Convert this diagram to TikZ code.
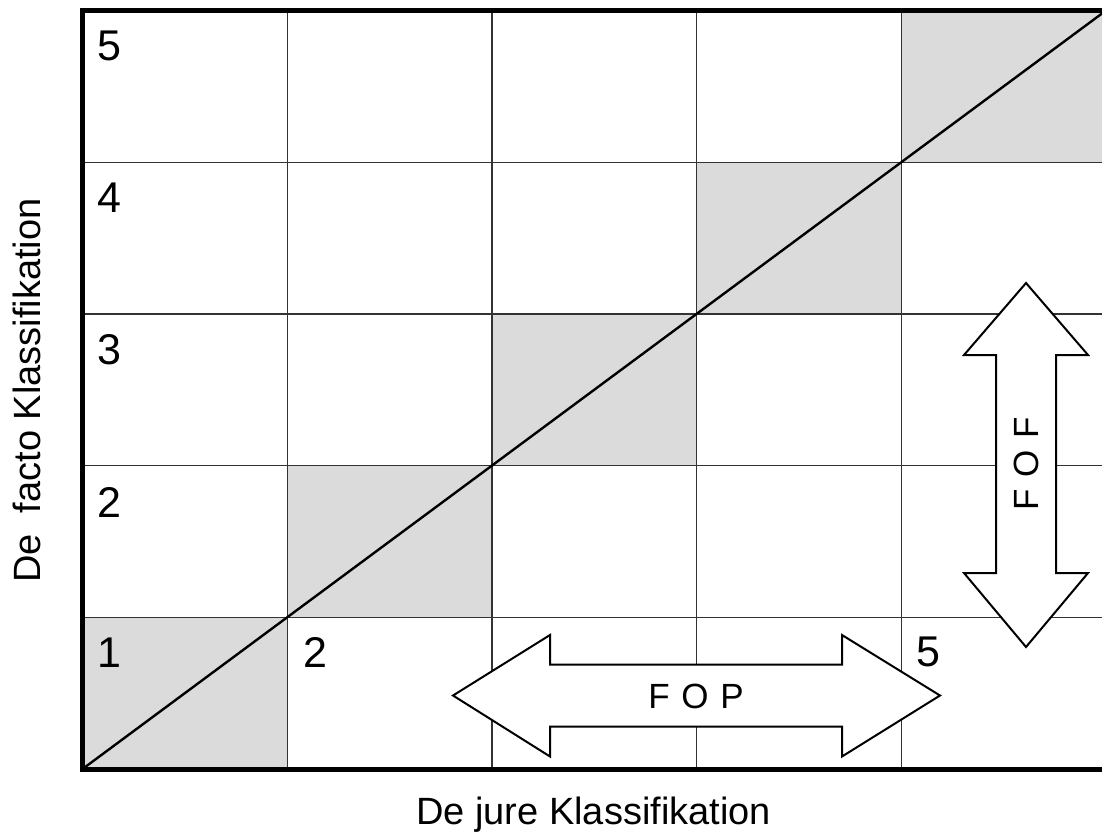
\documentclass[tikz,border=0pt]{standalone}
\usepackage{fontspec}
\setmainfont{Liberation Sans}
\begin{document}
\begin{tikzpicture}[x=1pt,y=-1pt,
  cellgray/.style={fill=black!14},
  gridline/.style={line width=1.4pt, draw=black!80},
  frame/.style={line width=5pt, draw=black, line join=miter},
  diag/.style={line width=2.4pt, draw=black},
  arrowbox/.style={line width=2pt, draw=black, fill=white, line join=miter},
  digit/.style={anchor=base west, inner sep=0pt, font=\fontsize{43}{43}\selectfont},
  axislabel/.style={anchor=base, inner sep=0pt, font=\fontsize{38}{38}\selectfont},
  arrowlabel/.style={inner sep=0pt, font=\fontsize{35}{35}\selectfont}]
\useasboundingbox (0,0) rectangle (1102,836);
\clip (0,0) rectangle (1102,836);
\def\gx{82.5}\def\gy{769}\def\cw{204.7}\def\ch{151.7}
% shaded diagonal cells
\foreach \i in {0,...,4}
  \fill[cellgray] ({\gx+\cw*\i},{\gy-\ch*\i}) rectangle ++(\cw,-\ch);
% inner grid lines
\foreach \i in {1,...,4}{
  \draw[gridline] ({\gx+\cw*\i},{\gy-5*\ch}) -- ({\gx+\cw*\i},\gy);
  \draw[gridline] (\gx,{\gy-\ch*\i}) -- ({\gx+5*\cw},{\gy-\ch*\i});
}
% diagonal
\coordinate (origin) at (\gx,\gy);
\coordinate (far) at ({\gx+5*\cw},{\gy-5*\ch});
\draw[diag] (origin) -- (far);
% frame: left, top and bottom
\draw[frame] ({\gx+5*\cw},{\gy-5*\ch}) -- (\gx,{\gy-5*\ch}) -- (\gx,\gy) -- ({\gx+5*\cw},\gy);
% horizontal double arrow
\draw[arrowbox] (453,695.5) -- (550,635) -- (550,664.5) -- (842,664.5) -- (842,635)
  -- (940,695.5) -- (842,756.5) -- (842,726.5) -- (550,726.5) -- (550,756.5) -- cycle;
% vertical double arrow
\draw[arrowbox] (1026,283) -- (1088,355) -- (1056,355) -- (1056,573) -- (1088,573)
  -- (1026,647) -- (964,573) -- (996,573) -- (996,355) -- (964,355) -- cycle;
\node[arrowlabel] (fop) at (696,696) {F\,\,O\,\,P};
\node[arrowlabel, rotate=90] (fof) at (1026,464) {F\,\,O\,\,F};
% row and column numbers
\node[digit] (r5) at (97,60) {5};
\node[digit] (r4) at (97,212) {4};
\node[digit] (r3) at (97,364) {3};
\node[digit] (r2) at (97,517) {2};
\node[digit] (r1) at (97,667) {1};
\node[digit] (c2) at (303,667) {2};
\node[digit] (c5) at (916,666) {5};
% axis labels
\node[axislabel] (xlabel) at (593.5,824) {De jure Klassifikation};
\node[axislabel, rotate=90] (ylabel) at (40,390.5) {De\ \ facto Klassifikation};
\end{tikzpicture}
\end{document}
